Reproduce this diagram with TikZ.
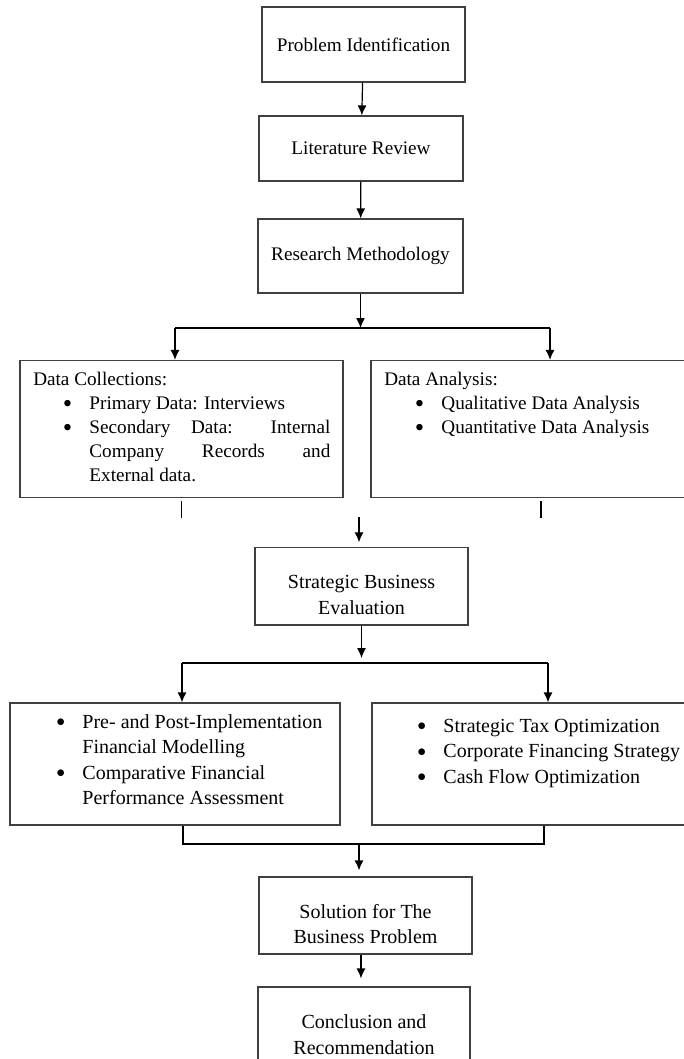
\documentclass[tikz,border=0pt]{standalone}
\usepackage{fontspec}
\setmainfont{Liberation Serif}
\usetikzlibrary{arrows.meta}

\newcommand{\bul}{\makebox[20pt][l]{\smash{\raisebox{-0.35ex}{\scalebox{1.4}{\textbullet}}}}}
\newcommand{\nobul}{\hspace*{20pt}}
\newcommand{\lowr}{\rule{0pt}{23pt}}

\begin{document}
\begin{tikzpicture}[
    x=0.75pt, y=-0.75pt,
    box/.style={rectangle, draw=black!75, line width=0.9pt, align=center, font=\fontsize{14.4}{18.2}\selectfont},
    lowbox/.style={box, font=\fontsize{15}{19}\selectfont},
    txt/.style={anchor=base west, inner sep=0pt, font=\fontsize{14.4}{18.2}\selectfont},
    lowtxt/.style={txt, font=\fontsize{15}{19.1}\selectfont},
    arrow/.style={-{Latex[length=7.5pt,width=6.75pt]}, line width=0.9pt},
    link/.style={line width=0.9pt}
]
\useasboundingbox (0,0) rectangle (684,1059);
\clip (0,0) rectangle (684,1059);

% Top chain
\node[box, minimum width=152.25pt, minimum height=56.25pt] (pi) at (363.5,44.5) {Problem Identification};
\node[box, minimum width=153pt, minimum height=48.75pt] (lr) at (361,148.5) {Literature Review};
\node[box, minimum width=153.75pt, minimum height=55.5pt] (rm) at (360.5,256) {Research Methodology};

% Data collection
\node[box, minimum width=242.25pt, minimum height=102.75pt] (dc) at (181.5,429) {};
\node[txt] (dchead) at (33,385) {Data Collections:};
\node[txt] (dclist) at (62.5,409) {\begin{tabular}[t]{@{}l@{}}
  \bul Primary Data: Interviews\\
  \bul\makebox[180.75pt][s]{Secondary Data: Internal}\\
  \nobul\makebox[180.75pt][s]{Company Records and}\\
  \nobul External data.
\end{tabular}};

% Data analysis
\node[box, minimum width=261.75pt, minimum height=102.75pt] (da) at (545.5,429) {};
\node[txt] (dahead) at (384,385) {Data Analysis:};
\node[txt] (dalist) at (414.5,409) {\begin{tabular}[t]{@{}l@{}}
  \bul Qualitative Data Analysis\\
  \bul Quantitative Data Analysis
\end{tabular}};

% Evaluation
\node[lowbox, minimum width=159.75pt, minimum height=58.125pt] (sbe) at (361.5,586.25) {\lowr Strategic Business\\Evaluation};

% Financial modelling
\node[box, minimum width=247.5pt, minimum height=91.5pt] (fm) at (175,764) {};
\node[lowtxt] (fmlist) at (55.5,728.5) {\begin{tabular}[t]{@{}l@{}}
  \bul Pre- and Post-Implementation\\
  \nobul Financial Modelling\\
  \bul Comparative Financial\\
  \nobul Performance Assessment
\end{tabular}};

% Strategy
\node[box, minimum width=261pt, minimum height=91.5pt] (ts) at (546,764) {};
\node[lowtxt] (tslist) at (416.5,732.5) {\begin{tabular}[t]{@{}l@{}}
  \bul Strategic Tax Optimization\\
  \bul Corporate Financing Strategy\\
  \bul Cash Flow Optimization
\end{tabular}};

% Bottom chain
\node[lowbox, minimum width=159.75pt, minimum height=57.75pt] (sol) at (365.5,915.5) {\lowr Solution for The\\Business Problem};
\node[lowbox, minimum width=159pt, minimum height=71.25pt] (cr) at (364,1034.5) {Conclusion and\\Recommendation};

% Junctions
\coordinate (split1) at (360.5,328);
\coordinate (l1) at (175,328);
\coordinate (r1) at (550,328);
\coordinate (merge1) at (359,517);
\coordinate (split2) at (361.5,663);
\coordinate (l2) at (182,663);
\coordinate (r2) at (548,663);
\coordinate (l3) at (183,844);
\coordinate (r3) at (544,844);
\coordinate (merge2) at (359,844);

% Arrows
\draw[arrow] (pi) -- (lr);
\draw[arrow] (lr) -- (rm);
\draw[arrow] (rm) -- (split1);
\draw[link] (l1) -- (r1);
\draw[arrow] (l1) -- (l1 |- dc.north);
\draw[arrow] (r1) -- (r1 |- da.north);
\draw[link] ([yshift=-2.25pt]dc.south) -- ++(0,17);
\draw[link] ([xshift=-3.4pt, yshift=-2.25pt]da.south) -- ++(0,17);
\draw[arrow, shorten >=3.4pt] (merge1) -- (merge1 |- sbe.north);
\draw[arrow, shorten >=3.75pt] (sbe) -- (split2);
\draw[link] (l2) -- (r2);
\draw[arrow] (l2) -- (l2 |- fm.north);
\draw[arrow] (r2) -- (r2 |- ts.north);
\draw[link] (l3 |- fm.south) -- (l3) -- (r3) -- (r3 |- ts.south);
\draw[arrow, shorten >=4.5pt] (merge2) -- (merge2 |- sol.north);
\draw[arrow, shorten >=6pt] ([xshift=-3.4pt]sol.south) -- ([xshift=-3.4pt]sol.south |- cr.north);

\end{tikzpicture}
\end{document}
